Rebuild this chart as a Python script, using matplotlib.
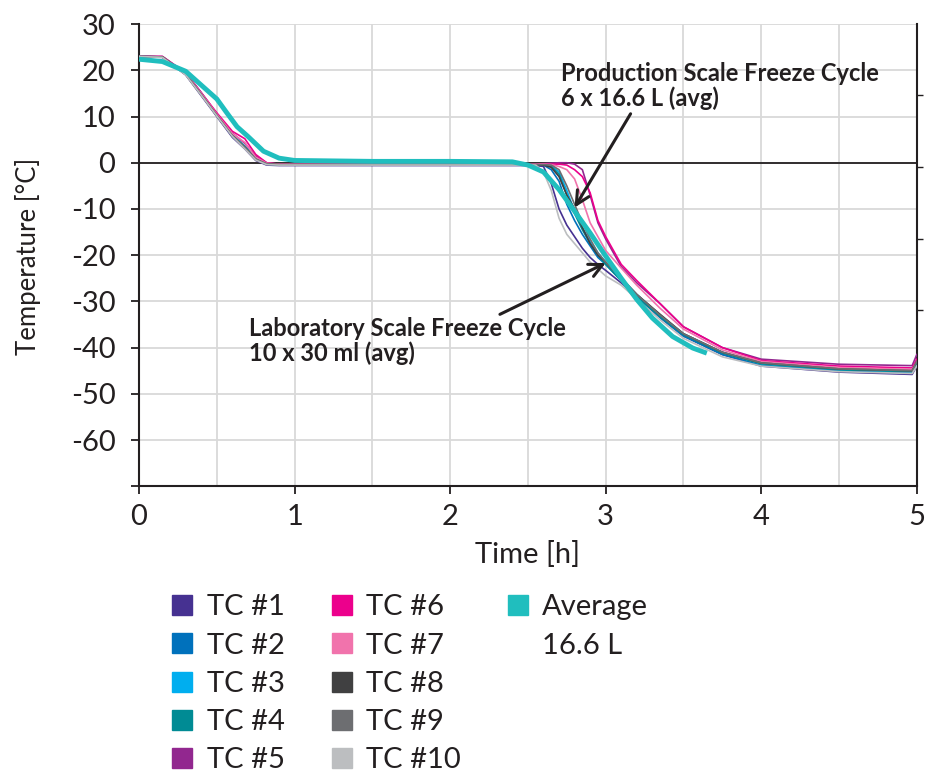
import numpy as np
import matplotlib
matplotlib.use('Agg')
import matplotlib.pyplot as plt
from matplotlib.lines import Line2D

plt.rcParams['font.family'] = ['Lato', 'DejaVu Sans']

# time grid for the thermocouples [h]
t_tc = [0, 0.15, 0.3, 0.4, 0.5, 0.6, 0.68, 0.75, 0.82, 0.9, 1.0, 1.5, 2.0, 2.5,
        2.55, 2.6, 2.65, 2.7, 2.75, 2.8, 2.85, 2.9, 2.95, 3.0, 3.1, 3.2, 3.35,
        3.5, 3.75, 4.0, 4.5, 4.97, 5.0]

# temperatures [°C]
tc1 = [23.0, 22.8, 19.0, 14.5, 10.0, 5.5, 3.0, 0.5, -0.5, -0.6, -0.6, -0.6, -0.6, -0.6,
       -0.6, -0.8, -4.5, -10.0, -13.5, -16.0, -18.5, -20.5, -22.0, -23.3, -26.0, -29.0, -33.5,
       -37.5, -41.5, -44.0, -45.3, -45.8, -44.0]
tc2 = [23.0, 22.9, 19.2, 14.8, 10.2, 5.8, 3.4, 0.8, -0.3, -0.5, -0.5, -0.5, -0.5, -0.5,
       -0.5, -0.5, -1.5, -4.0, -9.0, -12.5, -15.5, -18.0, -20.5, -22.0, -25.5, -29.0, -33.5,
       -37.5, -41.5, -43.8, -45.0, -45.5, -43.5]
tc3 = [23.0, 22.9, 19.3, 15.0, 10.4, 6.0, 3.6, 1.0, -0.2, -0.4, -0.4, -0.4, -0.4, -0.4,
       -0.4, -0.4, -0.6, -2.0, -6.0, -10.5, -14.0, -17.0, -19.5, -21.5, -25.0, -28.5, -33.0,
       -37.0, -41.0, -43.5, -44.8, -45.2, -43.5]
tc4 = [23.0, 22.9, 19.2, 14.9, 10.3, 5.9, 3.5, 0.9, -0.2, -0.4, -0.4, -0.4, -0.4, -0.4,
       -0.4, -0.4, -0.8, -2.5, -7.0, -11.0, -14.5, -17.5, -20.0, -22.0, -25.5, -29.0, -33.3,
       -37.2, -41.2, -43.5, -44.8, -45.2, -43.3]
tc5 = [23.0, 23.0, 19.5, 15.2, 10.6, 6.4, 4.2, 1.5, 0.0, -0.3, -0.3, -0.3, -0.3, -0.3,
       -0.3, -0.2, -0.1, 0.0, 0.0, -0.3, -1.5, -7.0, -13.0, -16.5, -22.5, -26.0, -30.5,
       -35.5, -40.0, -42.5, -43.6, -43.9, -41.5]
tc6 = [23.0, 23.0, 19.4, 15.1, 10.8, 6.8, 5.2, 1.8, 0.0, -0.3, -0.3, -0.3, -0.3, -0.3,
       -0.3, -0.3, -0.3, -0.3, -0.5, -1.5, -3.0, -6.5, -12.5, -16.0, -22.0, -25.5, -30.5,
       -35.5, -40.0, -42.8, -44.0, -44.4, -42.5]
tc7 = [23.0, 22.9, 19.3, 15.0, 10.5, 6.3, 4.4, 1.2, -0.1, -0.3, -0.3, -0.3, -0.3, -0.3,
       -0.3, -0.3, -0.4, -0.8, -1.5, -3.5, -8.0, -13.0, -16.0, -19.0, -22.8, -26.5, -31.5,
       -36.0, -40.5, -43.0, -44.3, -44.7, -43.0]
tc8 = [23.0, 22.9, 19.1, 14.7, 10.2, 5.8, 3.3, 0.7, -0.3, -0.4, -0.4, -0.4, -0.4, -0.4,
       -0.4, -0.5, -1.0, -3.0, -7.0, -10.0, -14.0, -17.5, -20.0, -21.5, -25.0, -28.5, -32.8,
       -37.0, -41.0, -43.3, -44.6, -45.0, -43.0]
tc9 = [23.0, 22.9, 19.2, 14.8, 10.3, 5.9, 3.4, 0.8, -0.2, -0.4, -0.4, -0.4, -0.4, -0.4,
       -0.4, -0.4, -0.5, -1.5, -5.0, -9.0, -13.0, -16.5, -19.5, -21.5, -25.0, -28.5, -33.0,
       -37.0, -41.0, -43.3, -44.6, -45.0, -43.0]
tc10 = [23.0, 22.8, 19.0, 14.6, 10.1, 5.7, 3.0, 0.6, -0.4, -0.5, -0.5, -0.5, -0.5, -0.5,
        -0.5, -2.0, -6.0, -12.0, -15.5, -17.5, -19.5, -21.5, -23.0, -24.5, -26.5, -29.5, -34.0,
        -38.0, -42.0, -44.0, -45.2, -45.6, -44.0]

# average of the production scale runs
t_avg = [0, 0.15, 0.3, 0.4, 0.5, 0.56, 0.63, 0.7, 0.8, 0.9, 1.0, 1.5, 2.0, 2.4, 2.5,
         2.6, 2.7, 2.8, 2.9, 3.0, 3.1, 3.2, 3.3, 3.43, 3.56, 3.65]
avg = [22.4, 21.9, 19.8, 16.8, 13.8, 11.0, 7.8, 5.7, 2.5, 1.0, 0.5, 0.3, 0.3, 0.2, -0.5,
       -2.0, -5.8, -10.5, -15.2, -20.2, -25.0, -29.6, -33.6, -37.6, -40.1, -41.2]

tc_series = [tc1, tc2, tc3, tc4, tc5, tc6, tc7, tc8, tc9, tc10]
tc_labels = ['TC #1', 'TC #2', 'TC #3', 'TC #4', 'TC #5',
             'TC #6', 'TC #7', 'TC #8', 'TC #9', 'TC #10']
tc_colors = ['#463191', '#0071BC', '#00AEEF', '#008B94', '#92278F',
             '#EC008C', '#F173AC', '#404041', '#6D6E71', '#BCBEC0']
avg_color = '#20BEBE'
ink = '#231f20'
fs = 21

fig = plt.figure(figsize=(9.27, 7.78), dpi=100)
ax = fig.add_axes([0.15, 0.375, 0.839, 0.594])

for y, c in zip(tc_series, tc_colors):
    ax.plot(t_tc, y, color=c, lw=1.2, zorder=3)
ax.plot(t_avg, avg, color=avg_color, lw=3.5, zorder=4, solid_capstyle='butt')

ax.axhline(0, color=ink, lw=1.3, zorder=2)

ax.set_xlim(0, 5)
ax.set_ylim(-70, 30)
ax.set_xticks(range(0, 6))
ax.set_xticks(np.arange(0, 5.01, 0.5), minor=True)
ax.set_yticks(range(-70, 31, 10))
ax.set_yticklabels(['', '-60', '-50', '-40', '-30', '-20', '-10', '0', '10', '20', '30'])
ax.grid(True, which='both', color='#d9d9d9', lw=1.3, zorder=0)
ax.tick_params(axis='both', which='major', labelsize=fs, color=ink, labelcolor=ink,
               length=6, width=1.3, direction='out')
ax.tick_params(axis='y', pad=11)
ax.tick_params(axis='x', pad=7)
ax.tick_params(axis='x', which='minor', length=0)
for s in ['left', 'bottom', 'right']:
    ax.spines[s].set_color(ink)
    ax.spines[s].set_linewidth(1.5)
ax.spines['top'].set_visible(False)
ax.set_axisbelow(True)

ax.set_xlabel('Time [h]', fontsize=fs, color=ink, labelpad=8)
fig.text(0.0297, 0.671, 'Temperature [°C]', fontsize=18.5, color=ink,
         rotation=90, ha='center', va='center')

# secondary scale on the right: tick marks only
ax2 = ax.twinx()
ax2.set_ylim(-70, 30)
ax2.set_yticks([14.7, -0.9, -16.4, -31.8])
ax2.set_yticklabels([])
ax2.tick_params(axis='y', length=4, width=1.0, color=ink)
for s in ax2.spines.values():
    s.set_visible(False)

# annotations
arrow = dict(arrowstyle='->', color=ink, lw=2.2, mutation_scale=24, shrinkA=0, shrinkB=0)
ax.annotate('', xy=(2.80, -9.7), xytext=(3.16, 10.6), arrowprops=arrow)
ax.annotate('', xy=(3.0, -21.7), xytext=(2.32, -32.8), arrowprops=arrow)
note = dict(fontsize=17, fontweight='bold', color=ink, ha='left', va='baseline')
ax.text(2.71, 17.7, 'Production Scale Freeze Cycle', **note)
ax.text(2.71, 12.3, '6 x 16.6 L (avg)', **note)
ax.text(0.707, -37.5, 'Laboratory Scale Freeze Cycle', **note)
ax.text(0.707, -42.9, '10 x 30 ml (avg)', **note)

# legend: three columns, last one holds the average only
handles = [Line2D([], [], marker='s', ls='none', markersize=14, color=c) for c in tc_colors]
labels = list(tc_labels)
handles.append(Line2D([], [], marker='s', ls='none', markersize=14, color=avg_color))
labels.append('Average')
handles.append(Line2D([], [], ls='none'))
labels.append('16.6 L')
for _ in range(3):
    handles.append(Line2D([], [], ls='none'))
    labels.append('')
leg = fig.legend(handles, labels, loc='upper left', bbox_to_anchor=(0.181, 0.236),
                 ncol=3, frameon=False, fontsize=fs, handlelength=1.0,
                 handletextpad=0.34, labelspacing=0.42, columnspacing=1.45,
                 borderaxespad=0, borderpad=0)
for txt in leg.get_texts():
    txt.set_color(ink)

fig.savefig('out.png', dpi=100)
